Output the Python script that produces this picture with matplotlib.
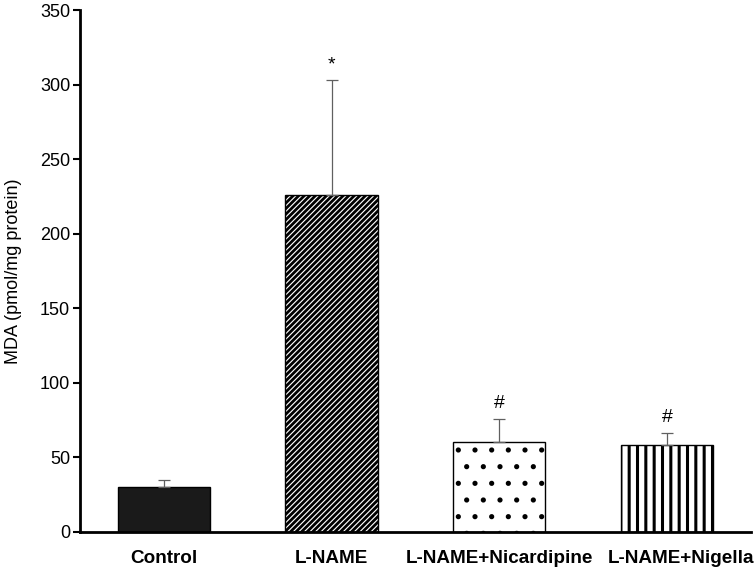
import matplotlib.pyplot as plt
import matplotlib.transforms as mtransforms
import numpy as np

plt.rcParams['font.family'] = ['Liberation Sans', 'DejaVu Sans']
plt.rcParams['hatch.color'] = 'black'

# data
groups = ['Control', 'L-NAME', 'L-NAME+Nicardipine', 'L-NAME+Nigella']
mda_mean = [30, 226, 60, 58.5]
mda_err = [5, 77, 16, 8]
marks = ['', '*', '#', '#']

fills = ['#1a1a1a', 'white', 'white', 'white']
hatches = [None, '//////', '.', '||']
hatch_lw = [1.0, 2.0, 1.3, 2.2]

fig = plt.figure(figsize=(7.54, 5.70), dpi=100)
ax = fig.add_axes([0.106, 0.067, 0.89, 0.915])

x = np.arange(len(groups))
for i in range(len(groups)):
    b = ax.bar(x[i], mda_mean[i], width=0.55, color=fills[i], edgecolor='black',
               linewidth=1.0, hatch=hatches[i], zorder=2)
    for p in b:
        p._hatch_linewidth = hatch_lw[i]

ax.errorbar(x, mda_mean, yerr=[np.zeros(len(x)), mda_err], fmt='none',
            ecolor='#606060', elinewidth=0.9, capsize=4, capthick=0.9, zorder=3)

# significance marks
for i in range(len(groups)):
    if marks[i]:
        top = mda_mean[i] + mda_err[i]
        ax.annotate(marks[i], (x[i], top), xytext=(0, 5), textcoords='offset points',
                    ha='center', va='bottom', fontsize=14)

ax.set_xlim(-0.5, 3.5)
ax.set_ylim(0, 350)
ax.set_yticks(range(0, 351, 50))
ax.set_xticks(x)
ax.set_xticklabels(groups, fontsize=13.6, fontweight='bold')
ax.tick_params(axis='x', length=0, pad=13)
ax.tick_params(axis='y', labelsize=13, length=5, width=1.5, direction='out', pad=2)
ax.set_ylabel('MDA (pmol/mg protein)', fontsize=13, labelpad=13)

# last label sits a bit to the right in the original
last = ax.get_xticklabels()[-1]
last.set_transform(last.get_transform() + mtransforms.ScaledTranslation(10 / 72, 0, fig.dpi_scale_trans))

for s in ['top', 'right']:
    ax.spines[s].set_visible(False)
for s in ['left', 'bottom']:
    ax.spines[s].set_linewidth(2)

fig.savefig('out.png', dpi=100)
